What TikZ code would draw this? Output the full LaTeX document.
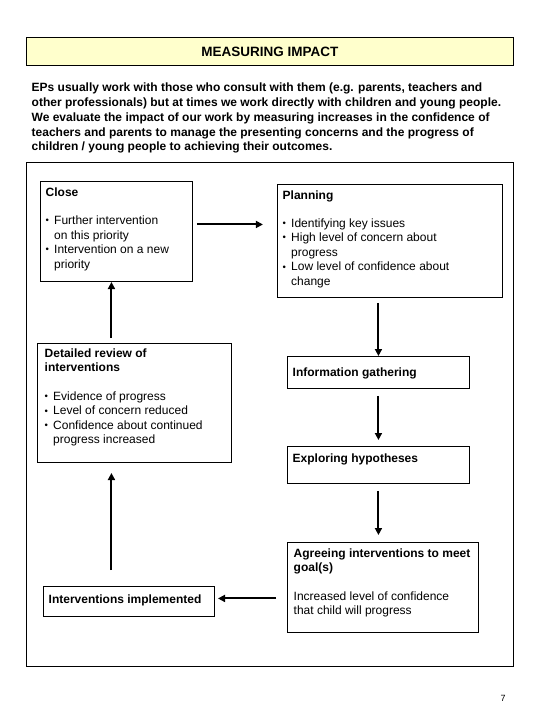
\documentclass[tikz,border=0pt]{standalone}
\usepackage{fontspec}
\usepackage{graphicx}
\setmainfont{Liberation Sans}
\usetikzlibrary{arrows.meta,calc}
\definecolor{paleyellow}{HTML}{FFFFCC}
\begin{document}
\begin{tikzpicture}[x=1pt,y=-1pt,
  box/.style={draw,line width=0.9pt,inner sep=0,anchor=north west},
  txt/.style={anchor=north west,inner sep=0,align=left,font=\fontsize{12}{14.5}\selectfont,execute at begin node=\strut},
  arr/.style={line width=2pt,-{Triangle[length=7pt,width=7pt]}}]
\newcommand{\bu}{\makebox[8.5pt][l]{\raisebox{0.9pt}{\scalebox{0.8}{\textbullet}}}}
\newcommand{\bi}{\hspace*{8.5pt}}
\useasboundingbox (0,0) rectangle (540,720);
% title
\node[box,fill=paleyellow,minimum width=487pt,minimum height=28pt] (titlebox) at (26,37) {};
\node[font=\fontsize{13.5}{16}\selectfont\bfseries] (title) at (titlebox.center) {MEASURING IMPACT};
% paragraph
\node[txt,font=\fontsize{12}{14.9}\selectfont\bfseries] (para) at (31.5,82.5) {EPs usually work with those who consult with them (e.g. parents, teachers and\\
other professionals) but at times we work directly with children and young people.\\
We evaluate the impact of our work by measuring increases in the confidence of\\
teachers and parents to manage the presenting concerns and the progress of\\
children / young people to achieving their outcomes.};
% outer frame
\node[box,line width=1.1pt,minimum width=487pt,minimum height=504pt] (frame) at (26,162) {};
% boxes
\node[box,minimum width=152pt,minimum height=100pt] (close) at (40,181) {};
\node[box,minimum width=225pt,minimum height=113pt] (plan) at (277,184) {};
\node[box,minimum width=194pt,minimum height=119pt] (review) at (37,343) {};
\node[box,minimum width=182pt,minimum height=32pt] (info) at (287,356) {};
\node[box,minimum width=182pt,minimum height=37pt] (explore) at (287,446) {};
\node[box,minimum width=191pt,minimum height=90pt] (agree) at (287,542) {};
\node[box,minimum width=171pt,minimum height=30pt] (impl) at (43,586) {};
% texts
\node[txt] (closet) at (45.5,188) {\textbf{Close}\\[13.5pt]
\bu Further intervention\\ \bi on this priority\\
\bu Intervention on a new\\ \bi priority};
\node[txt] (plant) at (282.5,190.5) {\textbf{Planning}\\[13.5pt]
\bu Identifying key issues\\
\bu High level of concern about\\ \bi progress\\
\bu Low level of confidence about\\ \bi change};
\node[txt] (reviewt) at (44.5,348.5) {\textbf{Detailed review of}\\ \textbf{interventions}\\[14pt]
\bu Evidence of progress\\
\bu Level of concern reduced\\
\bu Confidence about continued\\ \bi progress increased};
\node[txt] (infot) at (292.5,366.5) {\textbf{Information gathering}};
\node[txt] (exploret) at (292.5,452.5) {\textbf{Exploring hypotheses}};
\node[txt] (agreet) at (293.5,548.5) {\textbf{Agreeing interventions to meet}\\ \textbf{goal(s)}\\[14pt]
Increased level of confidence\\ that child will progress};
\node[txt] (implt) at (48.5,593.5) {\textbf{Interventions implemented}};
\node[font=\fontsize{9}{11}\selectfont] (pagenum) at (503,698) {7};
% connectors
\draw[arr] (close.east) ++(4,-7) -- ++(66,0);
\draw[arr] (info.north |- plan.south) ++(0,5) -- (info.north);
\draw[arr] ([yshift=-7pt]info.south) -- ([yshift=6pt]explore.north);
\coordinate (ag) at (agree.north -| explore.south);
\draw[arr] ([yshift=-7pt]explore.south) -- ([yshift=7pt]ag);
\draw[arr] (agree.west) ++(-11,11) -- ++(-58,0);
\draw[arr] (impl.north) ++(-17.5,-16) -- ++(0,-97);
\draw[arr] (review.north) ++(-23,-5) -- ++(0,-56);
\end{tikzpicture}
\end{document}
